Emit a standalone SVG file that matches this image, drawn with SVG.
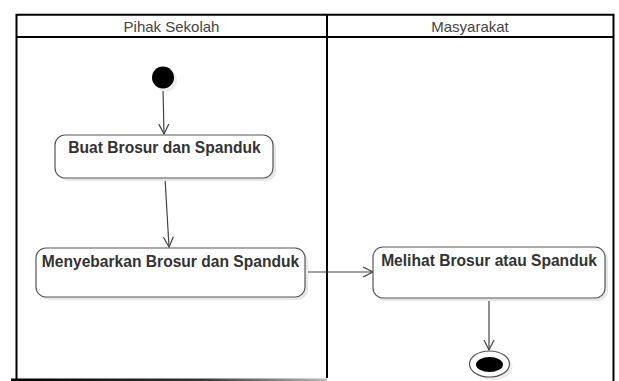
<svg xmlns="http://www.w3.org/2000/svg" width="619" height="381" viewBox="0 0 619 381">
<defs>
<style>
.lane{fill:none;stroke:#000;stroke-width:2}
.hdr{font-family:"Liberation Sans",Arial,sans-serif;font-size:15px;fill:#444;text-anchor:middle}
.box{fill:#fff;stroke:#555;stroke-width:1.2}
.shd{fill:#e6e6e6}
.lbl{font-family:"Liberation Sans",Arial,sans-serif;font-size:15.6px;font-weight:bold;fill:#333;text-anchor:middle}
.con{fill:none;stroke:#444;stroke-width:1.2}
</style>
<marker id="arr" viewBox="0 0 12 12" refX="11" refY="6" markerWidth="12" markerHeight="12" markerUnits="userSpaceOnUse" orient="auto">
<path d="M1,1 L11,6 L1,11" fill="none" stroke="#444" stroke-width="1.2"/>
</marker>
<linearGradient id="fade" x1="0" y1="0" x2="1" y2="0">
<stop offset="0" stop-color="#000"/>
<stop offset="0.6" stop-color="#333"/>
<stop offset="1" stop-color="#bbb"/>
</linearGradient>
</defs>
<rect width="619" height="381" fill="#fff"/>
<g id="swimlanes">
<path class="lane" d="M16.5,381 V14.7 H613.5 V381"/>
<line class="lane" x1="16.5" y1="37" x2="613.5" y2="37"/>
<line class="lane" x1="327" y1="14.7" x2="327" y2="378"/>
<text class="hdr" x="171.5" y="32">Pihak Sekolah</text>
<text class="hdr" x="470" y="32">Masyarakat</text>
<rect x="11" y="378.5" width="316" height="2.5" fill="url(#fade)"/>
</g>
<g id="connectors">
<line class="con" x1="163" y1="88" x2="164" y2="134" marker-end="url(#arr)"/>
<line class="con" x1="165" y1="178" x2="169" y2="247" marker-end="url(#arr)"/>
<line class="con" x1="305" y1="272" x2="373" y2="272" marker-end="url(#arr)"/>
<line class="con" x1="489" y1="298" x2="489" y2="350" marker-end="url(#arr)"/>
</g>
<g id="start">
<circle cx="166" cy="80.5" r="11" fill="#ececec"/>
<circle cx="163" cy="77.5" r="11" fill="#000"/>
</g>
<g id="buat">
<rect class="shd" x="58" y="138" width="218" height="43" rx="10"/>
<rect class="box" x="55" y="135" width="218" height="43" rx="10"/>
<text class="lbl" x="164.5" y="153">Buat Brosur dan Spanduk</text>
</g>
<g id="menyebarkan">
<rect class="shd" x="39" y="251" width="269" height="49" rx="10"/>
<rect class="box" x="36" y="248" width="269" height="49" rx="10"/>
<text class="lbl" x="170.5" y="267">Menyebarkan Brosur dan Spanduk</text>
</g>
<g id="melihat">
<rect class="shd" x="376" y="250" width="232" height="51" rx="10"/>
<rect class="box" x="373" y="247" width="232" height="51" rx="10"/>
<text class="lbl" x="489" y="266">Melihat Brosur atau Spanduk</text>
</g>
<g id="end">
<ellipse cx="492.5" cy="367" rx="20" ry="13" fill="#ececec"/>
<ellipse cx="489.5" cy="364" rx="20" ry="13" fill="#fff" stroke="#555" stroke-width="1.2"/>
<ellipse cx="489.5" cy="364.5" rx="13.5" ry="7.5" fill="#000"/>
</g>
</svg>
